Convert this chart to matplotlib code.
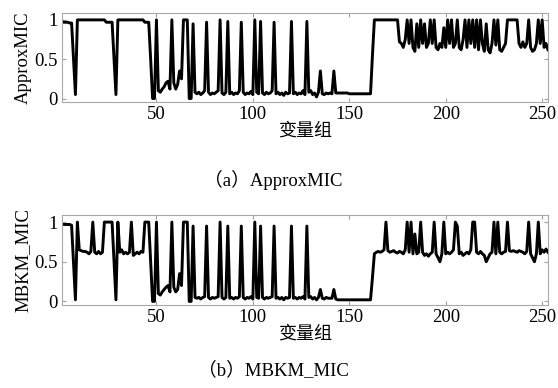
import numpy as np
import matplotlib
matplotlib.use("Agg")
import matplotlib.pyplot as plt

plt.rcParams['font.family'] = ['Liberation Serif', 'Noto Sans CJK SC']

# ApproxMIC per variable group (x = 1..253)
approx_mic = [
    0.98, 0.97, 0.97, 0.97, 0.96, 0.96, 0.5, 0.05, 1.0, 1.0,
    1.0, 1.0, 1.0, 1.0, 1.0, 1.0, 1.0, 1.0, 1.0, 1.0,
    1.0, 1.0, 1.0, 0.97, 0.97, 0.97, 0.97, 0.5, 0.05, 1.0,
    1.0, 1.0, 1.0, 1.0, 1.0, 1.0, 1.0, 1.0, 1.0, 1.0,
    1.0, 1.0, 1.0, 0.97, 0.97, 0.97, 0.5, 0.0, 0.0, 1.0,
    0.1, 0.08, 0.12, 0.15, 0.2, 0.22, 0.12, 1.0, 0.2, 0.12,
    0.18, 0.35, 0.25, 1.0, 1.0, 1.0, 0.0, 0.0, 0.95, 0.08,
    0.06, 0.08, 0.05, 0.07, 0.1, 0.97, 0.08, 0.05, 0.07, 0.06,
    0.08, 0.1, 1.0, 0.07, 0.05, 0.08, 0.98, 0.06, 0.08, 0.05,
    0.07, 0.06, 0.1, 0.97, 0.08, 0.05, 0.07, 0.06, 0.09, 0.05,
    1.0, 0.08, 0.06, 0.98, 0.07, 0.05, 0.08, 0.06, 0.07, 0.1,
    0.97, 0.06, 0.08, 0.05, 0.07, 0.04, 0.08, 0.06, 0.07, 0.98,
    0.06, 0.08, 0.05, 0.07, 0.06, 0.1, 0.05, 0.98, 0.08, 0.1,
    0.05, 0.07, 0.02, 0.08, 0.35, 0.06, 0.05, 0.07, 0.06, 0.07,
    0.06, 0.35, 0.07, 0.07, 0.07, 0.07, 0.07, 0.07, 0.07, 0.06,
    0.06, 0.06, 0.06, 0.06, 0.06, 0.06, 0.06, 0.06, 0.06, 0.06,
    0.06, 0.55, 1.0, 1.0, 1.0, 1.0, 1.0, 1.0, 1.0, 1.0,
    1.0, 1.0, 1.0, 1.0, 1.0, 0.72, 0.7, 0.65, 0.75, 1.0,
    0.7, 1.0, 0.65, 0.6, 0.95, 0.65, 1.0, 0.7, 0.95, 0.65,
    0.7, 1.0, 0.7, 1.0, 0.65, 0.62, 0.7, 0.65, 0.9, 0.65,
    1.0, 0.7, 1.0, 0.65, 0.7, 1.0, 0.65, 0.62, 0.75, 1.0,
    0.65, 1.0, 0.7, 1.0, 0.65, 1.0, 0.62, 1.0, 0.7, 0.6,
    0.95, 0.62, 0.58, 0.7, 1.0, 0.68, 1.0, 0.62, 0.6, 0.65,
    0.7, 1.0, 1.0, 1.0, 1.0, 1.0, 1.0, 0.7, 0.65, 0.72,
    0.65, 0.7, 1.0, 0.65, 0.6, 0.62, 0.7, 1.0, 0.7, 1.0,
    0.65, 0.7, 0.62,
]

# MBKM_MIC per variable group
mbkm_mic = [
    0.97, 0.97, 0.97, 0.97, 0.97, 0.96, 0.5, 0.02, 1.0, 0.65,
    0.64, 0.63, 0.63, 0.62, 0.6, 0.63, 1.0, 0.62, 0.6, 0.63,
    0.6, 0.62, 1.0, 1.0, 1.0, 1.0, 1.0, 0.5, 0.02, 1.0,
    0.62, 0.65, 0.6, 0.62, 0.6, 0.62, 1.0, 0.58, 0.6, 0.62,
    0.6, 0.63, 0.62, 1.0, 1.0, 1.0, 0.5, 0.0, 0.0, 1.0,
    0.1, 0.08, 0.12, 0.15, 0.18, 0.2, 0.12, 1.0, 0.18, 0.12,
    0.15, 0.35, 0.2, 1.0, 1.0, 1.0, 0.0, 0.0, 0.95, 0.05,
    0.04, 0.05, 0.03, 0.05, 0.06, 0.95, 0.05, 0.03, 0.05, 0.04,
    0.05, 0.06, 1.0, 0.05, 0.03, 0.05, 0.95, 0.04, 0.05, 0.03,
    0.05, 0.04, 0.06, 0.95, 0.05, 0.03, 0.05, 0.04, 0.06, 0.03,
    1.0, 0.05, 0.04, 0.95, 0.05, 0.03, 0.05, 0.04, 0.05, 0.06,
    0.95, 0.04, 0.05, 0.03, 0.05, 0.02, 0.05, 0.04, 0.05, 0.95,
    0.04, 0.05, 0.03, 0.05, 0.04, 0.06, 0.03, 0.95, 0.05, 0.06,
    0.03, 0.05, 0.02, 0.05, 0.15, 0.04, 0.03, 0.05, 0.04, 0.04,
    0.04, 0.15, 0.03, 0.02, 0.02, 0.02, 0.02, 0.02, 0.02, 0.02,
    0.02, 0.02, 0.02, 0.02, 0.02, 0.02, 0.02, 0.02, 0.02, 0.02,
    0.02, 0.3, 0.6, 0.62, 0.63, 0.62, 0.63, 0.65, 1.0, 0.64,
    0.62, 0.63, 0.64, 0.62, 0.61, 0.63, 0.62, 0.6, 0.65, 1.0,
    0.62, 1.0, 0.6, 0.85, 0.6, 0.62, 1.0, 0.62, 0.58, 0.6,
    0.57, 0.6, 0.62, 1.0, 0.6, 0.55, 0.5, 0.6, 1.0, 0.6,
    0.62, 0.6, 0.62, 0.65, 1.0, 0.95, 0.6, 0.62, 0.58, 0.6,
    0.62, 0.6, 0.65, 1.0, 1.0, 0.62, 0.6, 0.63, 0.6, 0.58,
    0.5, 0.55, 0.6, 0.62, 1.0, 0.6, 1.0, 0.62, 0.6, 0.62,
    0.63, 1.0, 0.64, 0.63, 0.64, 0.63, 0.62, 0.64, 0.63, 0.62,
    0.6, 0.63, 1.0, 0.6, 0.55, 0.5, 0.6, 1.0, 0.6, 0.65,
    0.62, 0.66, 0.62,
]

xticks = [50, 100, 150, 200, 250]
yticks = [0, 0.5, 1]
ytick_labels = ['0', '0.5', '1']
xlabel = '变量组'
panels = [('ApproxMIC', '（a）ApproxMIC', approx_mic),
          ('MBKM_MIC', '（b）MBKM_MIC', mbkm_mic)]

fig = plt.figure(figsize=(5.58, 3.88), dpi=100)
# axes boxes in figure coords (left, bottom, width, height)
boxes = [[0.111, 0.738, 0.871, 0.229],
         [0.111, 0.215, 0.871, 0.231]]
caption_y = [0.535, 0.045]

for (ylab, cap, vals), box, cy in zip(panels, boxes, caption_y):
    ax = fig.add_axes(box)
    x = np.arange(1, len(vals) + 1)
    ax.plot(x, vals, color='black', lw=2.1)
    ax.set_xlim(1, len(vals))
    ax.set_ylim(-0.04, 1.09)
    ax.set_xticks(xticks)
    ax.set_yticks(yticks)
    ax.set_yticklabels(ytick_labels)
    ax.tick_params(direction='in', top=True, right=True, length=3,
                   color='#a0a0a0', labelsize=13.5, pad=3)
    for s in ax.spines.values():
        s.set_color('#a8a8a8')
        s.set_linewidth(0.8)
    ax.set_ylabel(ylab, fontsize=13.5, labelpad=2)
    ax.set_xlabel(xlabel, fontsize=13, labelpad=0)
    fig.text(0.49, cy, cap, ha='center', va='center', fontsize=13.5)

fig.savefig('out.png', dpi=100)
